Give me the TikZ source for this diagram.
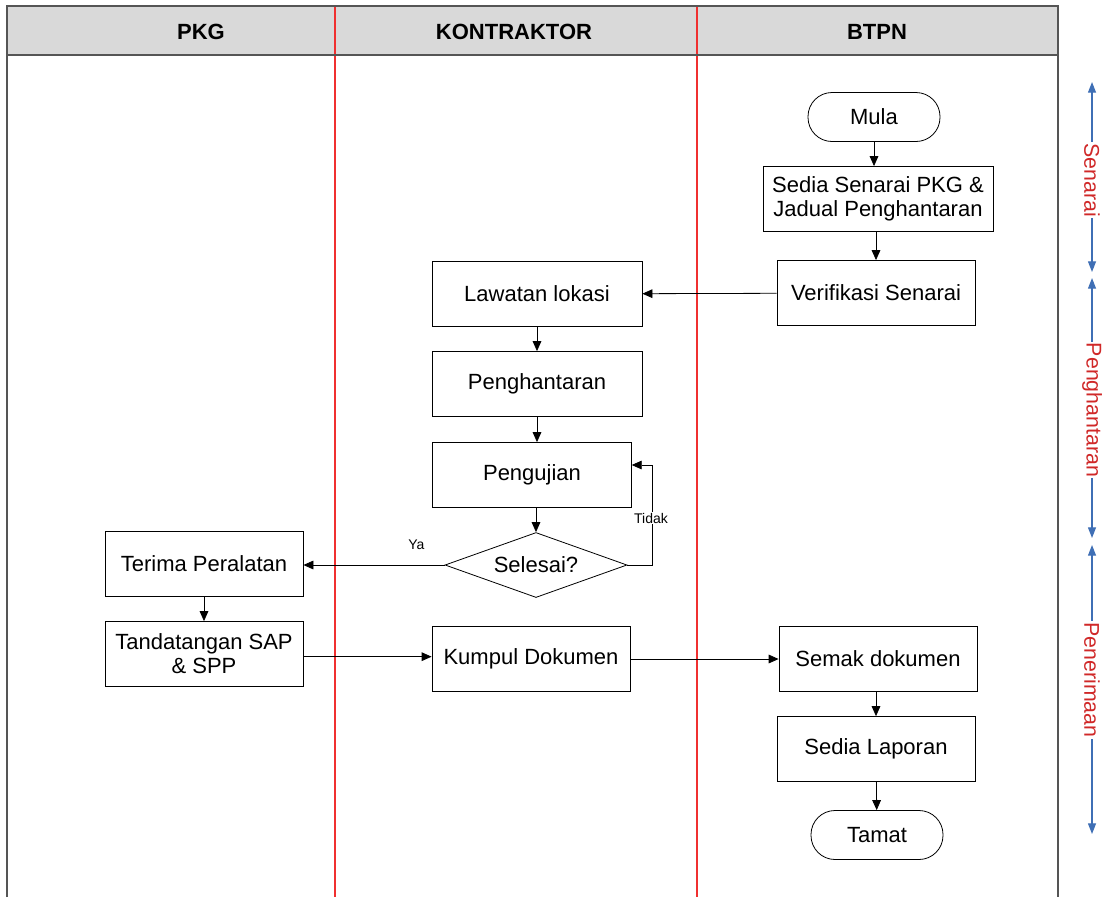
\documentclass[tikz,border=0pt]{standalone}
\usepackage{fontspec}
\setmainfont{Liberation Sans}
\usetikzlibrary{arrows.meta,shapes.geometric}
\definecolor{hdr}{HTML}{D9D9D9}
\definecolor{frm}{HTML}{555555}
\definecolor{lane}{HTML}{F03030}
\definecolor{sideblue}{HTML}{3F6FB5}
\definecolor{sidered}{HTML}{D02828}
\begin{document}
\begin{tikzpicture}[x=0.75pt,y=-0.75pt,
  box/.style={draw=black,line width=0.6pt,fill=white,minimum width=148.5pt,minimum height=48.75pt,align=center,font=\fontsize{16.5}{18}\selectfont,inner sep=2pt},
  term/.style={draw=black,line width=0.6pt,fill=white,rounded corners=18pt,minimum width=99pt,minimum height=36.75pt,font=\fontsize{16.5}{18}\selectfont},
  dec/.style={draw=black,line width=0.6pt,fill=white,diamond,aspect=2.8,inner sep=0pt,minimum width=136.5pt,minimum height=48.75pt,font=\fontsize{16.5}{18}\selectfont},
  arr/.style={-{Triangle[length=7.5pt,width=6.5pt]},line width=0.6pt,black},
  hd/.style={font=\fontsize{16.5}{18}\selectfont\bfseries},
  lbl/.style={font=\fontsize{10.5}{12}\selectfont},
  side/.style={{Triangle[length=8pt,width=6pt]}-{Triangle[length=8pt,width=6pt]},line width=0.9pt,sideblue},
  sidelbl/.style={rotate=-90,fill=white,inner sep=1pt,text=sidered,font=\fontsize{16}{18}\selectfont}
]
\useasboundingbox (0,0) rectangle (1102,897);
% header and frame
\fill[hdr] (7,6) rectangle (1058,55);
\draw[lane,line width=0.8pt] (335,6) -- (335,897);
\draw[lane,line width=0.8pt] (697,6) -- (697,897);
\draw[frm,line width=2pt] (7,897) -- (7,6) -- (1058,6) -- (1058,897);
\draw[frm,line width=2.2pt] (7,55) -- (1058,55);
\node[hd] (hpkg) at (201,32) {PKG};
\node[hd] (hkon) at (514,32) {KONTRAKTOR};
\node[hd] (hbtpn) at (877,32) {BTPN};
% nodes
\node[term] (mula) at (874,117) {Mula};
\node[box,minimum width=172.5pt] (sedia) at (878,199) {Sedia Senarai PKG \&\\Jadual Penghantaran};
\node[box] (verif) at (876,293) {Verifikasi Senarai};
\node[box,minimum width=157.5pt] (lawat) at (537,294) {Lawatan lokasi};
\node[box,minimum width=157.5pt] (hantar) at (537,384) {Penghantaran};
\node[box,minimum width=149pt] (uji) at (532,475) {Pengujian};
\node[dec] (sel) at (536,565) {Selesai?};
\node[box] (terima) at (204,564) {Terima Peralatan};
\node[box] (tanda) at (204,654) {Tandatangan SAP\\\& SPP};
\node[box] (kumpul) at (531,659) {Kumpul Dokumen};
\node[box] (semak) at (878,659) {Semak dokumen};
\node[box] (lapor) at (876,749) {Sedia Laporan};
\node[term] (tamat) at (877,835) {Tamat};
% connectors
\draw[arr] (mula) -- (mula|-sedia.north);
\draw[arr] (sedia.south-|verif) -- (verif);
\draw[arr] (verif) -- (lawat);
\draw[arr] (lawat) -- (hantar);
\draw[arr] (hantar.south) -- (hantar.south|-uji.north);
\draw[arr] (uji.south-|sel) -- (sel.north);
\draw[arr] (sel.west) -- (sel.west-|terima.east) node[lbl,pos=0.2,above=8pt] {Ya};
\coordinate (loop) at (652,465);
\draw[arr] (sel.east) -| (loop) -- (loop-|uji.east);
\node[lbl,fill=white,inner sep=1pt] (tidak) at (651,518) {Tidak};
\draw[arr] (terima) -- (tanda);
\draw[arr] ([yshift=-2pt]tanda.east) -- ([yshift=-2pt]tanda.east-|kumpul.west);
\draw[arr] (kumpul) -- (semak);
\draw[arr] (semak.south-|lapor) -- (lapor);
\draw[arr] (lapor) -- (tamat);
% side phases
\coordinate (s1a) at (1092,82); \coordinate (s1b) at (1092,272);
\coordinate (s2a) at (1092,278); \coordinate (s2b) at (1092,538);
\coordinate (s3a) at (1092,545); \coordinate (s3b) at (1092,834);
\draw[side] (s1a) -- (s1b);
\draw[side] (s2a) -- (s2b);
\draw[side] (s3a) -- (s3b);
\node[sidelbl] (p1) at (1092,180) {Senarai};
\node[sidelbl] (p2) at (1092,410) {Penghantaran};
\node[sidelbl] (p3) at (1092,680) {Penerimaan};
\end{tikzpicture}
\end{document}
